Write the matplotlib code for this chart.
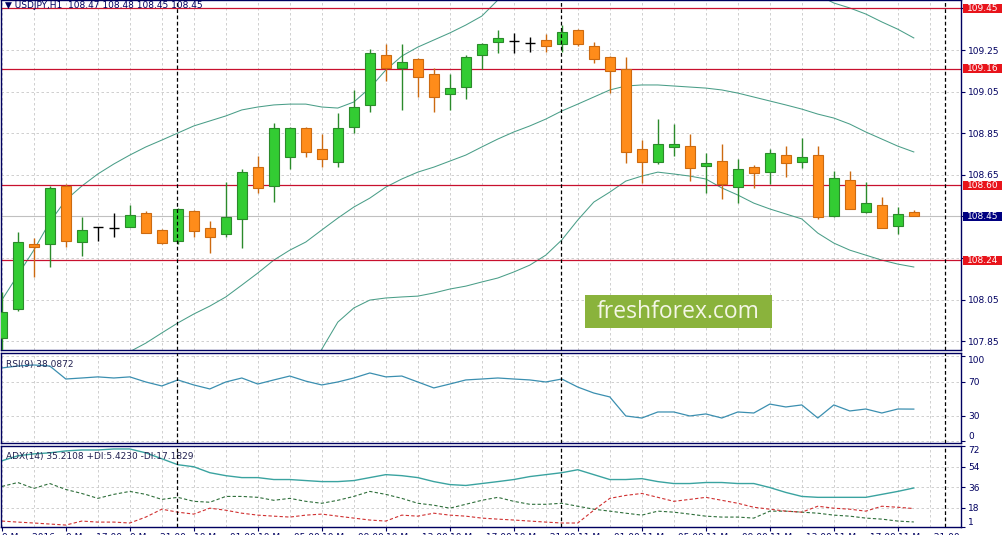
import matplotlib
matplotlib.use("Agg")
import numpy as np
import matplotlib.pyplot as plt
from matplotlib.patches import Rectangle
from matplotlib.transforms import blended_transform_factory

# USDJPY H1 candles, 9 May 13:00 -> 11 May 22:00
opens = [107.865, 108.005, 108.317, 108.317, 108.596, 108.327, 108.399, 108.394, 108.399, 108.466,
         108.385, 108.332, 108.476, 108.394, 108.365, 108.437, 108.687, 108.596, 108.735, 108.875,
         108.774, 108.712, 108.880, 108.986, 109.226, 109.164, 109.207, 109.135, 109.038, 109.072,
         109.226, 109.289, 109.293, 109.284, 109.298, 109.279, 109.346, 109.269, 109.216, 109.159,
         108.774, 108.712, 108.784, 108.789, 108.692, 108.716, 108.591, 108.688, 108.664, 108.745,
         108.712, 108.745, 108.452, 108.625, 108.471, 108.505, 108.404, 108.47]
highs = [108.087, 108.375, 108.346, 108.596, 108.605, 108.447, 108.399, 108.466, 108.505, 108.476,
         108.389, 108.49, 108.48, 108.428, 108.615, 108.68, 108.74, 108.90, 108.88, 108.88,
         108.846, 108.947, 109.058, 109.255, 109.279, 109.279, 109.212, 109.164, 109.135, 109.226,
         109.284, 109.346, 109.332, 109.313, 109.327, 109.37, 109.35, 109.289, 109.22, 109.216,
         108.817, 108.918, 108.894, 108.846, 108.755, 108.798, 108.726, 108.697, 108.774, 108.788,
         108.827, 108.788, 108.668, 108.668, 108.615, 108.543, 108.495, 108.48]
lows = [107.78, 107.995, 108.159, 108.207, 108.303, 108.26, 108.332, 108.351, 108.399, 108.37,
        108.317, 108.317, 108.351, 108.274, 108.351, 108.298, 108.563, 108.519, 108.68, 108.736,
        108.688, 108.688, 108.851, 108.952, 109.101, 108.962, 109.024, 108.952, 108.962, 109.014,
        109.159, 109.236, 109.236, 109.24, 109.24, 109.24, 109.269, 109.188, 109.043, 108.707,
        108.611, 108.702, 108.741, 108.62, 108.563, 108.534, 108.514, 108.587, 108.606, 108.64,
        108.683, 108.438, 108.447, 108.486, 108.466, 108.394, 108.365, 108.45]
closes = [107.99, 108.327, 108.303, 108.587, 108.332, 108.385, 108.399, 108.394, 108.457, 108.37,
          108.322, 108.486, 108.38, 108.351, 108.447, 108.664, 108.587, 108.875, 108.875, 108.76,
          108.726, 108.875, 108.976, 109.236, 109.164, 109.192, 109.12, 109.024, 109.067, 109.216,
          109.279, 109.308, 109.293, 109.284, 109.269, 109.337, 109.279, 109.207, 109.149, 108.76,
          108.712, 108.798, 108.798, 108.683, 108.707, 108.606, 108.678, 108.659, 108.755, 108.707,
          108.736, 108.447, 108.635, 108.486, 108.514, 108.394, 108.462, 108.45]

# Bollinger bands
bb_upper = [108.048, 108.168, 108.288, 108.423, 108.529, 108.596, 108.654, 108.702, 108.745, 108.784,
            108.817, 108.851, 108.885, 108.909, 108.933, 108.962, 108.976, 108.986, 108.99, 108.99,
            108.976, 108.971, 109.0, 109.067, 109.154, 109.221, 109.264, 109.298, 109.332, 109.37,
            109.413, 109.49, 109.53, 109.555, 109.572, 109.577, 109.55, 109.535, 109.55, 109.54,
            109.53, 109.52, 109.52, 109.52, 109.52, 109.53, 109.535, 109.535, 109.53, 109.52,
            109.515, 109.515, 109.476, 109.452, 109.423, 109.385, 109.35, 109.308]
bb_middle = [107.66, 107.67, 107.68, 107.69, 107.70, 107.72, 107.74, 107.77, 107.80, 107.841,
             107.89, 107.938, 107.981, 108.019, 108.063, 108.12, 108.178, 108.24, 108.288, 108.327,
             108.385, 108.442, 108.495, 108.538, 108.591, 108.63, 108.663, 108.687, 108.716, 108.745,
             108.784, 108.822, 108.856, 108.885, 108.918, 108.957, 108.99, 109.024, 109.058, 109.077,
             109.082, 109.082, 109.077, 109.072, 109.067, 109.058, 109.043, 109.024, 109.005, 108.986,
             108.966, 108.942, 108.923, 108.894, 108.856, 108.822, 108.788, 108.76]
bb_lower = [107.27, 107.17, 107.07, 106.96, 106.87, 106.84, 106.83, 106.84, 106.86, 106.90,
            106.96, 107.03, 107.08, 107.13, 107.19, 107.28, 107.38, 107.49, 107.59, 107.66,
            107.812, 107.942, 108.01, 108.048, 108.058, 108.063, 108.067, 108.082, 108.101, 108.115,
            108.135, 108.154, 108.183, 108.216, 108.264, 108.337, 108.433, 108.519, 108.567, 108.62,
            108.644, 108.663, 108.654, 108.644, 108.63, 108.587, 108.553, 108.514, 108.486, 108.462,
            108.438, 108.37, 108.322, 108.288, 108.264, 108.24, 108.221, 108.207]

rsi = [86.5, 88.8, 90, 88.8, 73.5, 74.7, 76, 74.7, 76, 70,
       65.3, 72.4, 66.5, 61.8, 70, 74.7, 67.6, 72.4, 77, 71,
       66.5, 70, 74.7, 80.6, 76, 77, 70, 63, 67.6, 72.4,
       73.5, 74.7, 73.5, 72.4, 70, 73.5, 64, 57, 52.4, 30,
       27.6, 34.7, 34.7, 30, 32.4, 27.6, 34.7, 33.5, 44, 40.6,
       43, 27.6, 43, 35.9, 38.2, 33.5, 38.2, 38.0872]

adx = [59.0, 63.4, 65.1, 66.0, 67.7, 68.5, 68.5, 69.4, 69.4, 66.0,
       60.8, 55.6, 53.8, 48.6, 46.0, 44.3, 44.3, 42.6, 42.6, 41.7,
       40.8, 40.8, 41.7, 44.3, 46.9, 46.0, 44.3, 40.8, 38.2, 37.4,
       39.1, 40.8, 42.6, 45.2, 46.9, 48.6, 51.2, 46.9, 42.6, 42.6,
       43.4, 40.8, 39.1, 39.1, 40.0, 40.0, 39.1, 39.1, 35.6, 31.3,
       27.8, 27.0, 27.0, 27.0, 27.0, 29.6, 32.2, 35.2108]
plus_di = [36.5, 40.0, 34.8, 39.1, 33.9, 30.4, 26.1, 29.6, 32.2, 29.6,
           25.2, 27.0, 23.5, 22.7, 27.8, 27.8, 27.0, 24.4, 26.1, 23.5,
           21.8, 24.4, 27.8, 32.2, 29.6, 26.1, 21.8, 20.1, 17.5, 20.9,
           24.4, 27.0, 23.5, 20.9, 20.9, 21.8, 19.2, 16.6, 14.9, 13.1,
           11.4, 14.9, 14.0, 12.3, 10.5, 9.7, 9.7, 8.8, 14.9, 14.9,
           14.0, 13.1, 11.4, 10.5, 8.8, 7.9, 6.2, 5.4230]
minus_di = [6.2, 5.3, 4.5, 3.6, 2.7, 6.2, 5.3, 5.3, 4.5, 9.7,
            16.6, 14.0, 12.3, 17.5, 15.7, 13.1, 11.4, 10.5, 9.7, 11.4,
            12.3, 10.5, 8.8, 7.1, 6.2, 11.4, 10.5, 13.1, 11.4, 10.5,
            8.8, 7.9, 7.1, 6.2, 5.3, 4.5, 4.5, 15.7, 26.1, 28.7,
            30.4, 27.0, 23.5, 25.2, 27.0, 24.4, 21.8, 18.3, 16.6, 14.9,
            14.0, 19.2, 17.5, 16.6, 14.9, 19.2, 18.3, 17.1829]

levels = [109.45, 109.16, 108.60, 108.24]
last_price = 108.45
price_ticks = [107.85, 108.05, 108.25, 108.45, 108.65, 108.85, 109.05, 109.25, 109.45]
price_labels = ["107.85", "108.05", "", "", "108.65", "108.85", "109.05", "109.25", ""]
time_labels = ["9 May 2016", "9 May 17:00", "9 May 21:00", "10 May 01:00", "10 May 05:00",
               "10 May 09:00", "10 May 13:00", "10 May 17:00", "10 May 21:00", "11 May 01:00",
               "11 May 05:00", "11 May 09:00", "11 May 13:00", "11 May 17:00", "11 May 21:00"]
day_breaks = [10.95, 34.95, 58.95]

W, H = 1003, 535
NAVY = "#000060"
GRID = "#c8c8c8"
BAND = "#4a9e88"


def box(l, t, r, b):
    return [l / W, 1 - b / H, (r - l) / W, (b - t) / H]


fig = plt.figure(figsize=(W / 100, H / 100), dpi=100, facecolor="white")
ax = fig.add_axes(box(1, 0, 961, 350))
ax_rsi = fig.add_axes(box(1, 353, 961, 443))
ax_adx = fig.add_axes(box(1, 446, 961, 527))

o, h, l, c = map(np.array, (opens, highs, lows, closes))
xs = np.arange(len(o))
up = c > o
dn = c < o
fl = c == o

# candles
ax.vlines(xs[up], l[up], h[up], color="#2b8a2b", lw=1, zorder=3)
ax.vlines(xs[dn], l[dn], h[dn], color="#cc6a10", lw=1, zorder=3)
ax.vlines(xs[fl], l[fl], h[fl], color="black", lw=1, zorder=3)
ax.bar(xs[up], (c - o)[up], bottom=o[up], width=0.6, color="#33cc33",
       edgecolor="#2b8a2b", lw=0.8, zorder=4)
ax.bar(xs[dn], (c - o)[dn], bottom=o[dn], width=0.6, color="#ff8c1a",
       edgecolor="#cc6a10", lw=0.8, zorder=4)
ax.hlines(o[fl], xs[fl] - 0.3, xs[fl] + 0.3, color="black", lw=1, zorder=4)

for band in (bb_upper, bb_middle, bb_lower):
    ax.plot(xs, band, color=BAND, lw=0.75, zorder=2)

trans = blended_transform_factory(ax.transAxes, ax.transData)
for lv in levels:
    ax.axhline(lv, color="#c8102e", lw=0.9, zorder=2)
    ax.add_patch(Rectangle((1.002, lv - 0.022), 39 / 960, 0.044, transform=trans,
                           facecolor="#e8141b", edgecolor="none", clip_on=False, zorder=6))
    ax.text(1.0225, lv, f"{lv:.2f}", transform=trans, ha="center", va="center",
            color="white", fontsize=6.5, zorder=7, clip_on=False)
ax.axhline(last_price, color="#c0c0c0", lw=0.8, zorder=1)
ax.add_patch(Rectangle((1.002, last_price - 0.022), 39 / 960, 0.044, transform=trans,
                       facecolor="#000080", edgecolor="none", clip_on=False, zorder=6))
ax.text(1.0225, last_price, f"{last_price:.2f}", transform=trans, ha="center", va="center",
        color="white", fontsize=6.5, zorder=7, clip_on=False)

ax.set_ylim(107.808, 109.4904)
ax.set_yticks(price_ticks)
ax.set_yticklabels(price_labels)

# RSI
ax_rsi.plot(xs, rsi, color="#3b8fb0", lw=0.9)
ax_rsi.set_ylim(-1.8, 104.1)
ax_rsi.set_yticks([0, 30, 70, 100])
ax_rsi.text(0.005, 0.92, "RSI(9) 38.0872", transform=ax_rsi.transAxes, ha="left", va="top",
            fontsize=6.5, color="#202050")

# ADX
ax_adx.plot(xs, adx, color="#3aa3a0", lw=1.0)
ax_adx.plot(xs, plus_di, color="#2e6e3a", lw=0.8, ls=(0, (3, 2)))
ax_adx.plot(xs, minus_di, color="#d03030", lw=0.8, ls=(0, (3, 2)))
ax_adx.set_ylim(1, 72)
ax_adx.set_yticks([1, 18, 36, 54, 72])
ax_adx.text(0.005, 0.93, "ADX(14) 35.2108 +DI:5.4230 -DI:17.1829", transform=ax_adx.transAxes,
            ha="left", va="top", fontsize=6.5, color="#202050")

for a in (ax, ax_rsi, ax_adx):
    a.set_xlim(-0.05, 59.95)
    a.set_facecolor("white")
    a.set_xticks(np.arange(0, 60, 2))
    a.grid(True, color=GRID, ls=(0, (3, 3)), lw=0.6)
    a.set_axisbelow(True)
    for d in day_breaks:
        a.axvline(d, color="black", lw=0.9, ls=(0, (3, 2)), zorder=5)
    for s in a.spines.values():
        s.set_color(NAVY)
        s.set_linewidth(1)
    a.yaxis.tick_right()
    a.tick_params(axis="y", direction="out", length=3, color=NAVY, labelsize=6.5,
                  labelcolor=NAVY, pad=2)
    a.tick_params(axis="x", length=0, labelbottom=False)

# keep the end labels of the indicator scales inside their panels
for a in (ax_rsi, ax_adx):
    labs = a.yaxis.get_majorticklabels()
    labs[0].set_va("bottom")
    labs[-1].set_va("top")

# x labels every 4 hours on the bottom panel
sec = ax_adx.secondary_xaxis("bottom")
sec.set_xticks(np.arange(0, 60, 4))
sec.set_xticklabels(time_labels, ha="left")
sec.tick_params(axis="x", direction="out", length=3, color=NAVY, labelsize=6.5,
                labelcolor=NAVY, pad=1)
sec.spines["bottom"].set_visible(False)

fig.text(5 / W, 1 - 5 / H, "\u25bc USDJPY,H1  108.47 108.48 108.45 108.45", ha="left", va="center",
         fontsize=6.5, color=NAVY)

# watermark
fig.patches.append(Rectangle((585 / W, 1 - 328 / H), 187 / W, 33 / H, transform=fig.transFigure,
                             facecolor="#8ab33c", edgecolor="none", zorder=10))
fig.text(678 / W, 1 - 312 / H, "freshforex.com", ha="center", va="center", fontsize=16.5,
         family="Open Sans", color="#f4f6e6", zorder=11)

fig.savefig("out.png", dpi=100, facecolor="white")
